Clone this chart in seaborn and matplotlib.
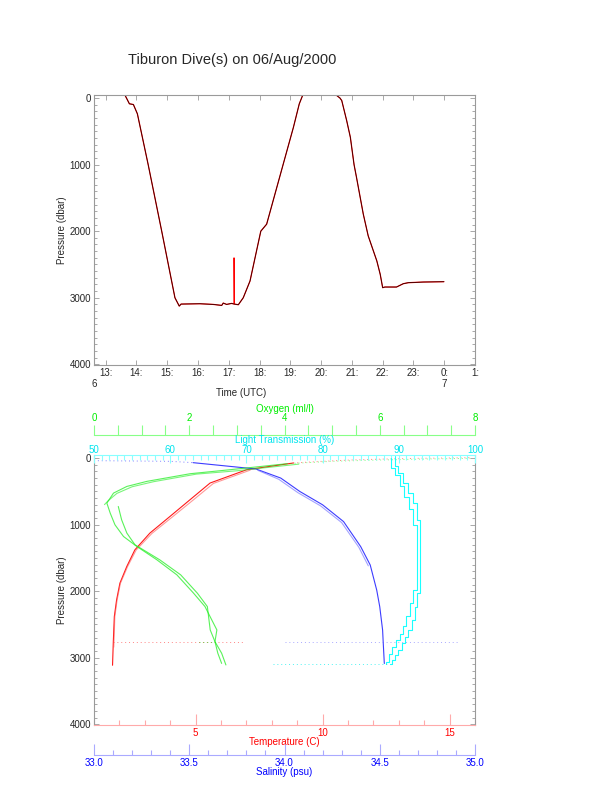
import matplotlib
matplotlib.use("Agg")
import matplotlib.pyplot as plt
import matplotlib.transforms as mtransforms
from matplotlib.ticker import MultipleLocator, FixedLocator, FormatStrFormatter
import seaborn as sns

sns.set_style("white")
plt.rcParams["font.family"] = ["Liberation Sans", "DejaVu Sans"]
plt.rcParams["font.size"] = 7

# ---- dive track: hours UTC on 06/Aug/2000, pressure in dbar
track_time = [13.63, 13.77, 13.90, 14.03, 14.38, 14.82, 15.25, 15.39, 15.45, 16.06,
              16.49, 16.77, 16.82, 16.93, 17.09, 17.18, 17.31, 17.47, 17.69, 18.04,
              18.23, 18.77, 19.10, 19.29, 19.40, 20.50, 20.61, 20.67, 20.83, 20.95,
              21.07, 21.15, 21.37, 21.53, 21.81, 21.92, 22.00, 22.07, 22.45, 22.67,
              22.83, 23.32, 23.99]
track_pres = [-40, 87, 98, 238, 1000, 2000, 3000, 3125, 3095, 3090,
              3100, 3115, 3080, 3100, 3085, 3095, 3105, 3000, 2748, 2000,
              1895, 991, 440, 88, -40, -40, 0, 38, 339, 590,
              1000, 1193, 1744, 2071, 2447, 2648, 2849, 2839, 2839, 2789,
              2774, 2764, 2759]
spike_time = [17.17, 17.17, 17.18]
spike_pres = [3090, 2400, 3090]

hour_ticks = list(range(13, 26))
hour_labels = [f"{h % 24}:" for h in hour_ticks]
day_ticks = [12.62, 24]
day_labels = ["6", "7"]

# ---- profiles (pressure in dbar)
temp_a = [8.85, 7.01, 5.57, 4.78, 3.99, 3.20, 2.61, 2.29, 2.02, 1.89, 1.80, 1.76, 1.73]
temp_a_p = [75, 176, 376, 627, 878, 1128, 1379, 1630, 1880, 2130, 2381, 2761, 3113]
temp_b = [7.15, 5.70, 4.90, 4.09, 3.28, 2.66, 2.32, 2.04, 1.91, 1.82, 1.78]
temp_b_p = [182, 382, 633, 884, 1133, 1382, 1632, 1882, 2132, 2383, 2840]
temp_surf = [8.85, 10.0, 11.1, 12.5, 13.7, 15.0, 15.8]
temp_surf_p = [75, 50, 30, 15, 5, 0, -5]
temp_flat = [1.75, 6.9]

sal_a = [33.52, 33.85, 33.98, 34.08, 34.20, 34.31, 34.40, 34.45, 34.484, 34.50, 34.515, 34.518, 34.524]
sal_a_p = [70, 165, 301, 502, 703, 955, 1331, 1607, 1983, 2234, 2585, 2761, 3087]
sal_b = [33.86, 33.97, 34.07, 34.19, 34.30, 34.39, 34.44]
sal_b_p = [185, 320, 520, 720, 970, 1340, 1620]
sal_surf = [33.0, 33.2, 33.4, 33.52]
sal_surf_p = [40, 45, 50, 70]
sal_flat = [34.0, 34.92]

oxy_a = [4.05, 2.72, 2.02, 1.11, 0.69, 0.41, 0.27, 0.34, 0.44, 0.62, 0.90, 1.32, 1.74,
         2.09, 2.33, 2.58, 2.54, 2.68, 2.77]
oxy_a_p = [86, 186, 236, 351, 427, 527, 677, 827, 1003, 1179, 1329, 1529, 1755,
           2030, 2231, 2582, 2758, 2932, 3108]
oxy_b = [0.51, 0.58, 0.69, 0.86, 1.38, 1.82, 2.17, 2.38, 2.44, 2.54, 2.60, 2.68]
oxy_b_p = [728, 928, 1128, 1303, 1529, 1755, 2030, 2231, 2582, 2758, 2932, 3085]
oxy_c = [4.3, 3.0, 2.15, 1.25, 0.80, 0.48, 0.30, 0.22]
oxy_c_p = [92, 192, 242, 356, 432, 532, 640, 700]
oxy_surf = [4.05, 5.0, 6.0, 7.0, 7.9]
oxy_surf_p = [86, 50, 30, 15, 5]
oxy_flat = [2.2, 2.55]

light_a = [89.5, 89.9, 90.6, 91.25, 91.9, 92.35, 92.8, 92.4, 92.1, 91.7, 91.25, 90.8,
           90.4, 89.9, 89.5, 89.1, 88.8]
light_a_p = [-24, 126, 226, 376, 526, 677, 928, 2030, 2231, 2432, 2582, 2683,
             2783, 2883, 2960, 3033, 3090]
light_b = [89.0, 89.5, 90.1, 90.7, 91.3, 91.9, 92.35, 91.9, 91.5, 91.0, 90.6, 90.1,
           89.6, 89.1, 88.7, 88.3, 88.3]
light_b_p = [0, 150, 260, 420, 580, 760, 1000, 1980, 2180, 2380, 2530, 2640,
             2740, 2840, 2950, 3060, 3095]
light_flat = [73.5, 88.8]
light_flat_p = [3090, 3090]

flat_p = 2762
pres_ticks = [0, 1000, 2000, 3000, 4000]

GRAY = "#9a9a9a"
fig = plt.figure(figsize=(6.12, 7.85), dpi=100)
fig.text(0.379, 0.9236, "Tiburon Dive(s) on 06/Aug/2000", ha="center", va="center", fontsize=10.5)


def pressure_axis(ax):
    ax.set_ylim(4010, -45)
    ax.yaxis.set_major_locator(FixedLocator(pres_ticks))
    ax.yaxis.set_minor_locator(MultipleLocator(100))
    ax.tick_params(axis="y", which="both", direction="in", color=GRAY, left=True, right=True,
                   labelsize=7, pad=2)
    ax.tick_params(axis="y", which="major", length=3.6, width=0.6)
    ax.tick_params(axis="y", which="minor", length=2.2, width=0.6)
    for s in ax.spines.values():
        s.set_color(GRAY)
        s.set_linewidth(0.8)
    ax.set_ylabel("Pressure (dbar)", fontsize=7)


# ---- top panel: pressure vs time
ax1 = fig.add_axes([94 / 612, 1 - 365 / 785, 381 / 612, 270 / 785])
sns.lineplot(x=track_time, y=track_pres, sort=False, estimator=None, color="#ff0000",
             linewidth=0.9, ax=ax1)
sns.lineplot(x=spike_time, y=spike_pres, sort=False, estimator=None, color="#ff0000",
             linewidth=0.7, ax=ax1)
sns.lineplot(x=track_time, y=track_pres, sort=False, estimator=None, color="black",
             linewidth=0.55, alpha=0.85, ax=ax1)
ax1.set_xlim(12.62, 25)
pressure_axis(ax1)
ax1.set_xticks(hour_ticks)
ax1.set_xticklabels(hour_labels)
ax1.tick_params(axis="x", direction="in", color=GRAY, top=True, bottom=True, length=3.6,
                width=0.6, labelsize=7, pad=2.5)
ax1.set_xlabel("Time (UTC)", fontsize=7)
ax1.xaxis.set_label_coords(0.385, -0.085)
ax1.yaxis.set_label_coords(-0.072, 0.5)
trans = mtransforms.blended_transform_factory(ax1.transData, ax1.transAxes)
for d, lab in zip(day_ticks, day_labels):
    ax1.text(d, -0.071, lab, transform=trans, ha="center", va="center", fontsize=7)

# ---- bottom panel: profiles
ax_t = fig.add_axes([94 / 612, 1 - 725 / 785, 381 / 612, 270 / 785])
ax_s = ax_t.twiny()
ax_o = ax_t.twiny()
ax_l = ax_t.twiny()

thin = dict(sort=False, estimator=None, linewidth=0.8)
dots = dict(sort=False, estimator=None, linewidth=0.7, linestyle=(0, (1, 3)))

# oxygen
sns.lineplot(x=oxy_surf, y=oxy_surf_p, color="#00ff00", alpha=0.5, ax=ax_o, **dots)
sns.lineplot(x=oxy_a, y=oxy_a_p, color="#22ee22", alpha=0.75, ax=ax_o, **thin)
sns.lineplot(x=oxy_b, y=oxy_b_p, color="#22ee22", alpha=0.75, ax=ax_o, **thin)
sns.lineplot(x=oxy_c, y=oxy_c_p, color="#22ee22", alpha=0.6, ax=ax_o, **thin)
sns.lineplot(x=oxy_flat, y=[flat_p, flat_p], color="#00dd00", alpha=0.6, ax=ax_o, **dots)
ax_o.set_xlim(0, 8)

# light transmission
sns.lineplot(x=light_a, y=light_a_p, color="#00ffff", alpha=0.9, drawstyle="steps-pre",
             ax=ax_l, **thin)
sns.lineplot(x=light_b, y=light_b_p, color="#00ffff", alpha=0.9, drawstyle="steps-pre",
             ax=ax_l, **thin)
sns.lineplot(x=light_flat, y=light_flat_p, color="#00eeee", alpha=0.7, ax=ax_l, **dots)
ax_l.set_xlim(50, 100)

# salinity
sns.lineplot(x=sal_surf, y=sal_surf_p, color="#0000ff", alpha=0.5, ax=ax_s, **dots)
sns.lineplot(x=sal_a, y=sal_a_p, color="#1a1aff", alpha=0.85, ax=ax_s, **thin)
sns.lineplot(x=sal_b, y=sal_b_p, color="#6666ff", alpha=0.6, ax=ax_s, **thin)
sns.lineplot(x=sal_flat, y=[flat_p, flat_p], color="#5555ff", alpha=0.5, ax=ax_s, **dots)
ax_s.set_xlim(33.0, 35.0)

# temperature
sns.lineplot(x=temp_surf, y=temp_surf_p, color="#ff0000", alpha=0.5, ax=ax_t, **dots)
sns.lineplot(x=temp_a, y=temp_a_p, color="#ff0000", alpha=0.9, ax=ax_t, **thin)
sns.lineplot(x=temp_b, y=temp_b_p, color="#ff5555", alpha=0.6, ax=ax_t, **thin)
sns.lineplot(x=temp_flat, y=[flat_p, flat_p], color="#ff3333", alpha=0.6, ax=ax_t, **dots)
ax_t.set_xlim(1, 16)

pressure_axis(ax_t)
ax_t.yaxis.set_label_coords(-0.072, 0.5)
ax_t.spines["top"].set_visible(False)
ax_t.spines["bottom"].set_color("#ffaaaa")
ax_t.xaxis.set_major_locator(FixedLocator([5, 10, 15]))
ax_t.xaxis.set_minor_locator(MultipleLocator(1))
ax_t.tick_params(axis="x", which="both", direction="in", color="#ffaaaa", labelcolor="#ff0000",
                 width=0.8, labelsize=7, pad=2)
ax_t.tick_params(axis="x", which="major", length=7.7)
ax_t.tick_params(axis="x", which="minor", length=3.6)
ax_t.set_xlabel("Temperature (C)", color="#ff0000", fontsize=7)
ax_t.xaxis.set_label_coords(0.5, -0.045)

for tw in (ax_s, ax_o, ax_l):
    for s in tw.spines.values():
        s.set_visible(False)
    tw.set_ylim(4010, -45)
    tw.tick_params(axis="y", left=False, right=False, labelleft=False, labelright=False)

# salinity axis below
ax_s.xaxis.set_ticks_position("bottom")
ax_s.xaxis.set_label_position("bottom")
ax_s.spines["bottom"].set_visible(True)
ax_s.spines["bottom"].set_position(("outward", 21.6))
ax_s.spines["bottom"].set_color("#aaaaff")
ax_s.spines["bottom"].set_linewidth(0.8)
ax_s.xaxis.set_major_locator(MultipleLocator(0.5))
ax_s.xaxis.set_minor_locator(MultipleLocator(0.1))
ax_s.xaxis.set_major_formatter(FormatStrFormatter("%.1f"))
ax_s.tick_params(axis="x", which="both", direction="in", color="#aaaaff", labelcolor="#0000ff",
                 width=0.8, labelsize=7, pad=1.8)
ax_s.tick_params(axis="x", which="major", length=7.7)
ax_s.tick_params(axis="x", which="minor", length=3.6)
ax_s.set_xlabel("Salinity (psu)", color="#0000ff", fontsize=7)
ax_s.xaxis.set_label_coords(0.5, -0.155)

# oxygen axis above
ax_o.spines["top"].set_visible(True)
ax_o.spines["top"].set_position(("outward", 14.4))
ax_o.spines["top"].set_color("#88ff88")
ax_o.spines["top"].set_linewidth(0.8)
ax_o.xaxis.set_major_locator(MultipleLocator(2))
ax_o.xaxis.set_minor_locator(MultipleLocator(0.5))
ax_o.tick_params(axis="x", which="both", direction="out", color="#88ff88", labelcolor="#00ee00",
                 width=0.8, labelsize=7, pad=1.5)
ax_o.tick_params(axis="x", which="major", length=7.2)
ax_o.tick_params(axis="x", which="minor", length=7.2)
ax_o.set_xlabel("Oxygen (ml/l)", color="#00ee00", fontsize=7)
ax_o.xaxis.set_label_coords(0.5, 1.158)

# light transmission axis on top of the frame
ax_l.spines["top"].set_visible(True)
ax_l.spines["top"].set_color("#88ffff")
ax_l.spines["top"].set_linewidth(0.8)
ax_l.xaxis.set_major_locator(MultipleLocator(10))
ax_l.xaxis.set_minor_locator(MultipleLocator(1))
ax_l.tick_params(axis="x", which="both", direction="in", color="#88ffff", labelcolor="#00e5ee",
                 width=0.8, labelsize=7, pad=0.3)
ax_l.tick_params(axis="x", which="major", length=5.8)
ax_l.tick_params(axis="x", which="minor", length=3.6)
ax_l.set_xlabel("Light Transmission (%)", color="#00e5ee", fontsize=7)
ax_l.xaxis.set_label_coords(0.5, 1.046)

fig.savefig("out.png", dpi=100)
